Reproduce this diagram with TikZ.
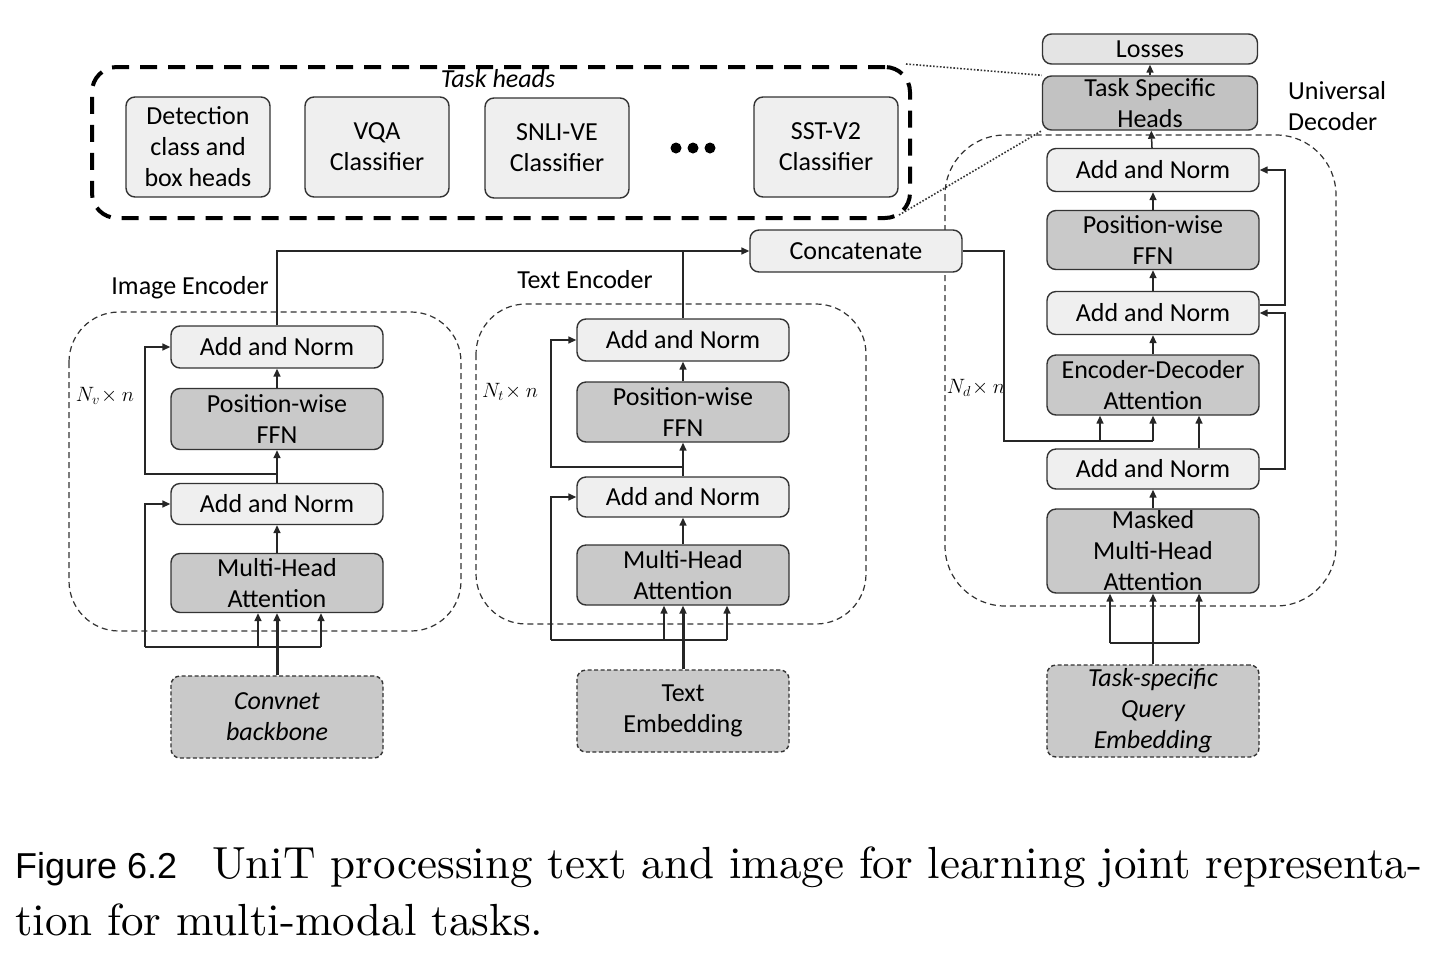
\documentclass[tikz,border=0pt]{standalone}
\usepackage{fontspec}
\newfontfamily\carlito{Carlito}
\newfontfamily\helv{Liberation Sans}
\newfontfamily\capfont{lmroman10-regular}[Extension=.otf]
\usetikzlibrary{arrows.meta,calc}
\definecolor{lightfill}{HTML}{EFEFEF}
\definecolor{lossfill}{HTML}{E4E4E4}
\definecolor{darkfill}{HTML}{C9C9C9}
\definecolor{headfill}{HTML}{C2C2C2}
\definecolor{edge}{HTML}{333333}
\newcommand\dfont{\carlito\fontsize{26}{31}\selectfont}
\begin{document}
\begin{tikzpicture}[x=1pt,y=-1pt,
  blk/.style={draw=edge, line width=1.4pt, rounded corners=9pt, align=center, font=\dfont, inner sep=0pt, minimum width=212pt},
  lightblk/.style={blk, fill=lightfill},
  darkblk/.style={blk, fill=darkfill},
  embblk/.style={blk, fill=darkfill, dash pattern=on 4pt off 2.5pt},
  region/.style={draw=edge, line width=1.2pt, dash pattern=on 6pt off 4pt},
  conn/.style={draw=black!85, line width=1.5pt},
  arr/.style={conn, -{Triangle[length=8pt,width=7pt]}},
  thickarr/.style={arr, line width=3pt},
  lbl/.style={font=\dfont, inner sep=0pt},
  mlbl/.style={font=\fontsize{22}{24}\selectfont, inner sep=0pt},
  dottedlink/.style={draw=black!80, line width=1.6pt, dash pattern=on 1.6pt off 1.8pt}
]
\useasboundingbox[fill=white] (0,0) rectangle (1456,954);

% ---------- regions ----------
\draw[region, rounded corners=50pt] (69,312) rectangle (461,631);
\draw[region, rounded corners=50pt] (476,304) rectangle (866,624);
\draw[region, rounded corners=60pt] (945,135) rectangle (1336,606);

% ---------- task heads ----------
\node[draw=black, line width=4pt, dash pattern=on 17pt off 11pt, rounded corners=25pt,
      minimum width=818pt, minimum height=151pt, inner sep=0pt] (taskheads) at (501,142.5) {};
\node[lbl, font=\dfont\itshape] (thlabel) at (498,79) {Task heads};
\node[lightblk, minimum width=144pt, minimum height=100pt] (det) at (198,147) {Detection\\class and\\box heads};
\node[lightblk, minimum width=144pt, minimum height=100pt] (vqa) at (377,147) {VQA\\Classifier};
\node[lightblk, minimum width=144pt, minimum height=100pt] (snli) at (557,148) {SNLI-VE\\Classifier};
\node[lightblk, minimum width=144pt, minimum height=100pt] (sst) at (826,147) {SST-V2\\Classifier};
\foreach \dx in {676,693,710} \fill (\dx,148) circle (5.5pt);

% ---------- decoder side ----------
\node[blk, fill=lossfill, minimum width=215pt, minimum height=30pt] (losses) at (1150,49) {Losses};
\node[blk, fill=headfill, minimum width=215pt, minimum height=54pt] (tsh) at (1150,103) {Task Specific\\Heads};
\node[lbl, align=left, anchor=west] (udlabel) at (1288,106) {Universal\\Decoder};

\node[lightblk, minimum height=43pt] (dAN3) at (1153,170) {Add and Norm};
\node[darkblk, minimum height=59pt] (dFFN) at (1153,240) {Position-wise\\FFN};
\node[lightblk, minimum height=43pt] (dAN2) at (1153,313) {Add and Norm};
\node[darkblk, minimum height=60pt] (dEDA) at (1153,385) {Encoder-Decoder\\Attention};
\node[lightblk, minimum height=40pt] (dAN1) at (1153,469) {Add and Norm};
\node[darkblk, minimum height=84pt] (dMHA) at (1153,551) {Masked\\Multi-Head\\Attention};
\node[embblk, minimum height=92pt, font=\dfont\itshape] (query) at (1153,711) {Task-specific\\Query\\Embedding};
\node[mlbl] (ndlabel) at (976,388) {$N_d\!\times n$};

\node[lightblk, minimum height=42pt] (concat) at (856,251) {Concatenate};

% ---------- image encoder ----------
\node[lbl] (ielabel) at (190,288) {Image Encoder};
\node[lightblk, minimum height=42pt] (iAN2) at (277,347) {Add and Norm};
\node[darkblk, minimum height=61pt] (iFFN) at (277,419) {Position-wise\\FFN};
\node[lightblk, minimum height=41pt] (iAN1) at (277,504) {Add and Norm};
\node[darkblk, minimum height=59pt] (iMHA) at (277,583) {Multi-Head\\Attention};
\node[embblk, minimum height=82pt, font=\dfont\itshape] (conv) at (277,717) {Convnet\\backbone};
\node[mlbl] (nvlabel) at (105,396) {$N_v\!\times n$};

% ---------- text encoder ----------
\node[lbl] (telabel) at (585,280) {Text Encoder};
\node[lightblk, minimum height=42pt] (tAN2) at (683,340) {Add and Norm};
\node[darkblk, minimum height=60pt] (tFFN) at (683,412) {Position-wise\\FFN};
\node[lightblk, minimum height=40pt] (tAN1) at (683,497) {Add and Norm};
\node[darkblk, minimum height=60pt] (tMHA) at (683,575) {Multi-Head\\Attention};
\node[embblk, minimum height=82pt] (temb) at (683,711) {Text\\Embedding};
\node[mlbl] (ntlabel) at (510,392) {$N_t\!\times n$};

% ---------- coordinates ----------
\coordinate (ibL) at (145,647);
\coordinate (ibA) at (258,647);
\coordinate (ibB) at (321,647);
\coordinate (isC) at (277,474);
\coordinate (isL) at (145,474);
\coordinate (tbL) at (551,640);
\coordinate (tbA) at (664,640);
\coordinate (tbB) at (727,640);
\coordinate (tsC) at (683,467);
\coordinate (tsL) at (551,467);
\coordinate (cR1) at (1004,251);
\coordinate (cR2) at (1004,441);
\coordinate (cM) at (1153,441);
\coordinate (cA) at (1100,441);
\coordinate (qL) at (1110,643);
\coordinate (qR) at (1199,643);
\coordinate (rA) at (1285,469);
\coordinate (rB) at (1285,313);
\coordinate (rC) at (1285,305);
\coordinate (rD) at (1285,170);

% ---------- image encoder connectors ----------
\draw[thickarr] (conv.north) -- (iMHA.south);
\draw[conn] (ibL) -- (ibB);
\draw[arr] (ibA) -- (ibA |- iMHA.south);
\draw[arr] (ibB) -- (ibB |- iMHA.south);
\draw[arr] (ibL) |- (iAN1.west);
\draw[arr] (iMHA) -- (iAN1);
\draw[arr] (iAN1) -- (iFFN);
\draw[arr] (isC) -- (isL) |- (iAN2.west);
\draw[arr] (iFFN) -- (iAN2);
\draw[arr] (iAN2.north) |- (concat.west);

% ---------- text encoder connectors ----------
\draw[thickarr] (temb.north) -- (tMHA.south);
\draw[conn] (tbL) -- (tbB);
\draw[arr] (tbA) -- (tbA |- tMHA.south);
\draw[arr] (tbB) -- (tbB |- tMHA.south);
\draw[arr] (tbL) |- (tAN1.west);
\draw[arr] (tMHA) -- (tAN1);
\draw[arr] (tAN1) -- (tFFN);
\draw[arr] (tsC) -- (tsL) |- (tAN2.west);
\draw[arr] (tFFN) -- (tAN2);
\draw[conn] (tAN2.north) -- (tAN2.north |- concat.west);

% ---------- decoder connectors ----------
\draw[conn] (concat.east) -- (cR1) -- (cR2) -- (cM);
\draw[arr] (cM) -- (dEDA.south);
\draw[arr] (cA) -- (cA |- dEDA.south);
\draw[arr] ([xshift=46pt]dAN1.north) -- ([xshift=46pt]dEDA.south);
\draw[arr, line width=2pt] (query.north) -- (dMHA.south);
\draw[conn] (qL) -- (qR);
\draw[arr] (qL) -- (qL |- dMHA.south);
\draw[arr] (qR) -- (qR |- dMHA.south);
\draw[arr] (dMHA) -- (dAN1);
\draw[arr] (dEDA) -- (dAN2);
\draw[arr] (dAN2) -- (dFFN);
\draw[arr] (dFFN) -- (dAN3);
\draw[arr] (dAN3) -- (tsh);
\draw[arr] (tsh) -- (losses);
\draw[arr] (dAN1.east) -- (rA) -- (rB) -- (dAN2.east);
\draw[arr] ([yshift=8pt]dAN2.east) -- (rC) -- (rD) -- (dAN3.east);

% ---------- dotted links ----------
\draw[dottedlink] ([xshift=-6pt,yshift=1pt]taskheads.north east) -- (tsh.north west);
\draw[dottedlink] ([xshift=-13pt,yshift=5pt]taskheads.south east) -- (tsh.south west);

% ---------- caption ----------
\node[anchor=base west, inner sep=0pt, font=\helv\fontsize{36}{40}\selectfont] (figno) at (15,878) {Figure 6.2};
\node[anchor=base west, inner sep=0pt, font=\capfont\fontsize{45}{54}\selectfont] (cap1) at (212,878) {UniT processing text and image for learning joint representa-};
\node[anchor=base west, inner sep=0pt, font=\capfont\fontsize{45}{54}\selectfont] (cap2) at (15,935) {tion for multi-modal tasks.};
\end{tikzpicture}
\end{document}
